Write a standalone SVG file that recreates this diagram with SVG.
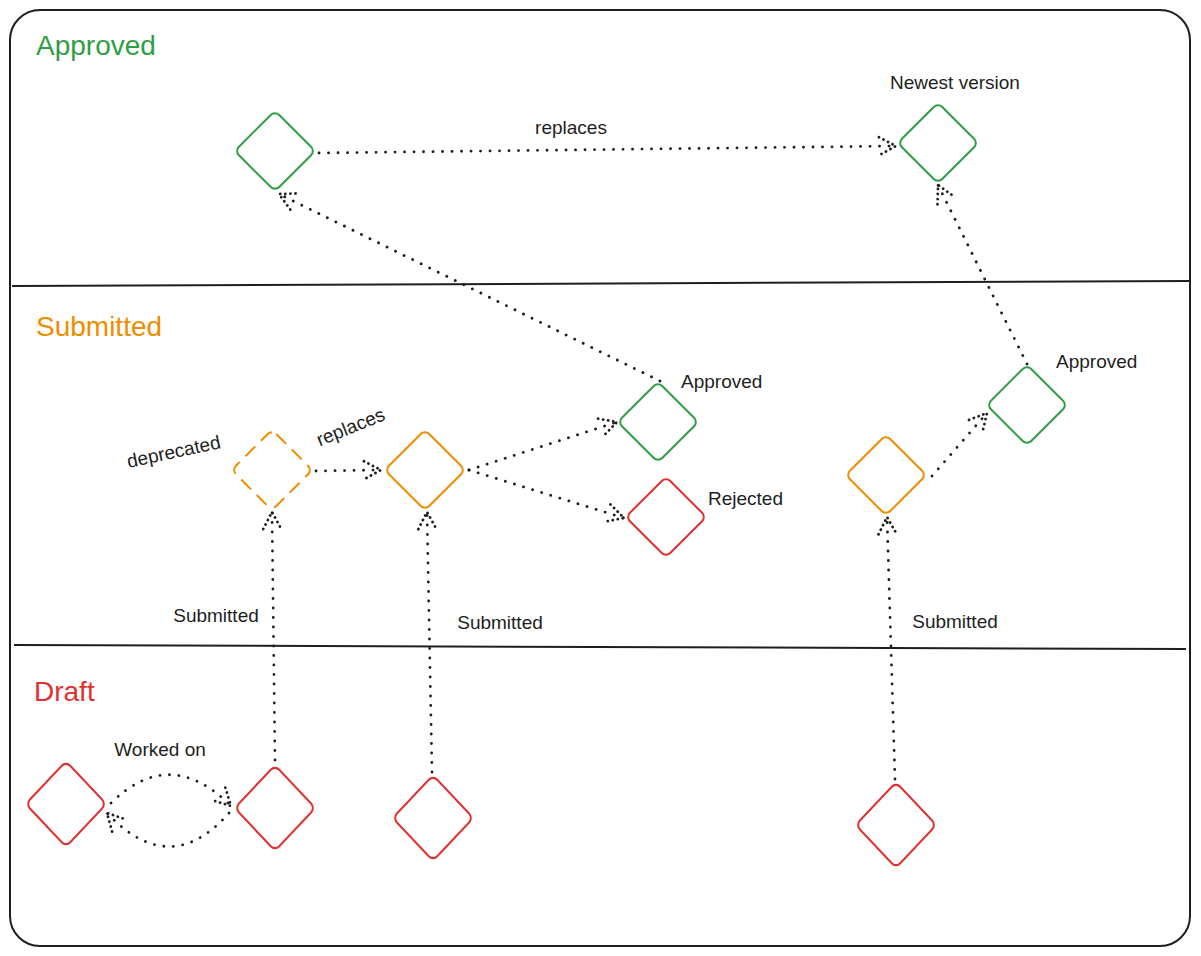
<svg xmlns="http://www.w3.org/2000/svg" width="1201" height="956" viewBox="0 0 1201 956">
<style>
.frame{fill:#fff;stroke:#1e1e1e;stroke-width:2}
.lane{stroke:#1e1e1e;stroke-width:2}
.title{font-family:"Liberation Sans",Arial,sans-serif;font-size:28px}
.lbl{font-family:"Liberation Sans",Arial,sans-serif;font-size:19px;fill:#1e1e1e}
.dia{fill:none;stroke-width:2}
.g{stroke:#2f9e44}.o{stroke:#f08c00}.r{stroke:#e03131}
.dash{stroke-dasharray:14 8}
.edge{fill:none;stroke:#1e1e1e;stroke-width:2.8;stroke-linecap:round;stroke-dasharray:0.1 9.4}
</style>
<defs>
<rect id="d" x="-28.5" y="-28.5" width="57" height="57" rx="6" transform="rotate(45)"/>
<rect id="dt" x="-28.5" y="-28.5" width="57" height="57" rx="6" transform="scale(1,1.06) rotate(45)"/>
<marker id="ah" viewBox="-19 -12 22 24" markerWidth="22" markerHeight="24" refX="0" refY="0" orient="auto" markerUnits="userSpaceOnUse">
<path d="M -17 -9 L 0 0 L -17 9" fill="none" stroke="#1e1e1e" stroke-width="2.8" stroke-linecap="round" stroke-dasharray="0.1 5"/>
</marker>
</defs>
<rect class="frame" x="10" y="10" width="1180" height="936" rx="30"/>
<line class="lane" x1="12" y1="286" x2="1190" y2="281"/>
<line class="lane" x1="14" y1="645" x2="1186" y2="649"/>
<text class="title" x="36" y="55" fill="#2f9e44">Approved</text>
<text class="title" x="36" y="336" fill="#f08c00">Submitted</text>
<text class="title" x="34" y="701" fill="#e03131">Draft</text>

<g id="edges">
<path class="edge" d="M 319 153 L 896 146" marker-end="url(#ah)"/>
<path class="edge" d="M 660 381 L 279 194" marker-end="url(#ah)"/>
<path class="edge" d="M 1027 364 L 938 185" marker-end="url(#ah)"/>
<path class="edge" d="M 316 471 L 381 470" marker-end="url(#ah)"/>
<path class="edge" d="M 469 470 L 617 422" marker-end="url(#ah)"/>
<path class="edge" d="M 469 470 L 624 518" marker-end="url(#ah)"/>
<path class="edge" d="M 932 476 L 987 413" marker-end="url(#ah)"/>
<path class="edge" d="M 275 760 L 272 512" marker-end="url(#ah)"/>
<path class="edge" d="M 432 772 L 427 512" marker-end="url(#ah)"/>
<path class="edge" d="M 895 779 L 887 517" marker-end="url(#ah)"/>
<path class="edge" d="M 111 803 Q 170 745 231 806" marker-end="url(#ah)"/>
<path class="edge" d="M 229 813 Q 170 880 107 813" marker-end="url(#ah)"/>
<text class="lbl" x="571" y="134" text-anchor="middle">replaces</text>
<text class="lbl" transform="translate(353,433) rotate(-22)" text-anchor="middle">replaces</text>
<text class="lbl" x="216" y="622" text-anchor="middle">Submitted</text>
<text class="lbl" x="500" y="629" text-anchor="middle">Submitted</text>
<text class="lbl" x="955" y="628" text-anchor="middle">Submitted</text>
<text class="lbl" x="160" y="756" text-anchor="middle">Worked on</text>
</g>

<g id="approved-old"><use href="#d" class="dia g" x="275" y="151"/></g>
<g id="approved-newest"><use href="#d" class="dia g" x="938" y="143"/><text class="lbl" x="955" y="89" text-anchor="middle">Newest version</text></g>
<g id="submitted-deprecated"><use href="#d" class="dia o dash" x="272" y="470"/><text class="lbl" transform="translate(175,458) rotate(-12)" text-anchor="middle">deprecated</text></g>
<g id="submitted-2"><use href="#d" class="dia o" x="425" y="470"/></g>
<g id="approved-mid"><use href="#d" class="dia g" x="658" y="422"/><text class="lbl" x="681" y="388">Approved</text></g>
<g id="rejected"><use href="#d" class="dia r" x="666" y="517"/><text class="lbl" x="708" y="505">Rejected</text></g>
<g id="approved-right"><use href="#d" class="dia g" x="1027" y="405"/><text class="lbl" x="1056" y="368">Approved</text></g>
<g id="submitted-right"><use href="#d" class="dia o" x="886" y="475"/></g>
<g id="draft-1"><use href="#dt" class="dia r" x="66" y="804"/></g>
<g id="draft-2"><use href="#dt" class="dia r" x="275" y="808"/></g>
<g id="draft-3"><use href="#dt" class="dia r" x="433" y="818"/></g>
<g id="draft-4"><use href="#dt" class="dia r" x="896" y="825"/></g>
</svg>
